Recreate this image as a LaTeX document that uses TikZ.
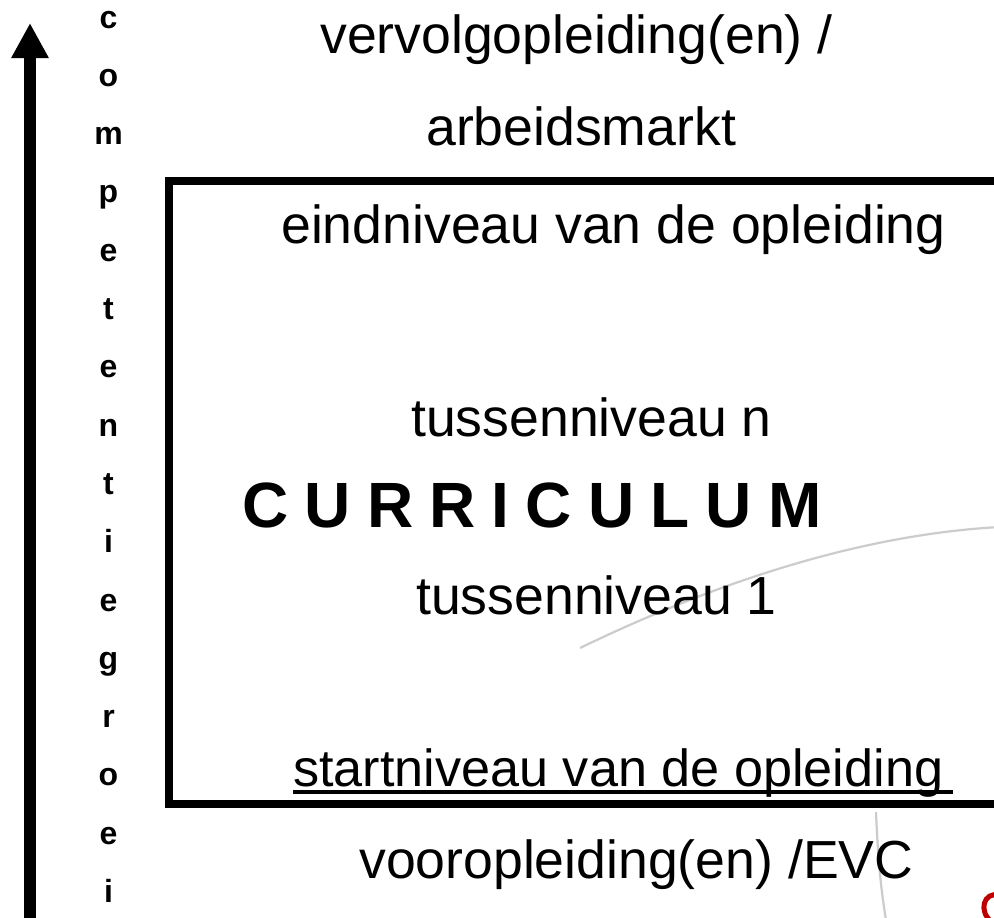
\documentclass[tikz,border=0pt]{standalone}
\usepackage{fontspec}
\setmainfont{Liberation Sans}
\usetikzlibrary{arrows.meta}
\begin{document}
\begin{tikzpicture}[x=1pt,y=-1pt,
  lbl/.style={inner sep=0pt, anchor=base west, font=\fontsize{53.6}{60}\selectfont},
  lblsm/.style={inner sep=0pt, anchor=base west, font=\fontsize{52.2}{60}\selectfont},
  curr/.style={inner sep=0pt, anchor=base west, font=\fontsize{64}{70}\selectfont\bfseries},
  col/.style={inner sep=0pt, anchor=base, font=\fontsize{32}{36}\selectfont\bfseries},
  frame/.style={line width=8pt, line join=miter},
  growth/.style={line width=12pt, -{Triangle[width=35pt,length=35pt]}},
  watermark/.style={draw=black!20, line width=2.2pt},
  logo/.style={draw=red!75!black, line width=5pt}]
\useasboundingbox (0,0) rectangle (994,918);
\clip (0,0) rectangle (994,918);
\fill[white] (0,0) rectangle (994,918);

% faint watermark curves
\coordinate (w1a) at (580,648);
\coordinate (w1b) at (1000,527);
\draw[watermark] (w1a) .. controls (700,590) and (850,535) .. (w1b);
\coordinate (w2a) at (876,812);
\coordinate (w2b) at (886,920);
\draw[watermark] (w2a) .. controls (878,860) and (881,890) .. (w2b);
\coordinate (r1) at (1000,895);
\coordinate (r2) at (992,922);
\draw[logo] (r1) .. controls (983,891) and (978,912) .. (r2);

% growth arrow
\coordinate (arrowbot) at (30,925);
\coordinate (arrowtip) at (30,23);
\draw[growth] (arrowbot) -- (arrowtip);

% vertical word
\foreach \ch [count=\i from 0] in {c,o,m,p,e,t,e,n,t,i,e,g,r,o,e,i}
  \node[col] (L\i) at (108.5,28+58.3*\i) {\ch};

% curriculum frame (open to the right)
\coordinate (ftr) at (1010,181);
\coordinate (fbr) at (1010,804);
\draw[frame] (ftr) -| (169,804) -- (fbr);

% texts
\node[lbl] (vervolg) at (320,53) {vervolgopleiding(en) /};
\node[lbl] (arbeid) at (426,145) {arbeidsmarkt};
\node[lbl] (eind) at (281,243) {eindniveau van de opleiding};
\node[lbl] (tussn) at (411,436) {tussenniveau n};
\node[curr] (curr) at (242,527) {C\hspace{16.2pt}U\hspace{16.2pt}R\hspace{16.2pt}R\hspace{16.2pt}I\hspace{16.2pt}C\hspace{16.2pt}U\hspace{16.2pt}L\hspace{16.2pt}U\hspace{16.2pt}M};
\node[lbl] (tuss1) at (416,614) {tussenniveau 1};
\node[lblsm] (start) at (293,786) {startniveau van de opleiding};
\node[lbl] (voor) at (359,878) {vooropleiding(en) /EVC};

% underline of the start level
\coordinate (ulend) at (953,792);
\draw[line width=3.6pt] ([yshift=-6pt]start.base west) -- (ulend);
\end{tikzpicture}
\end{document}
